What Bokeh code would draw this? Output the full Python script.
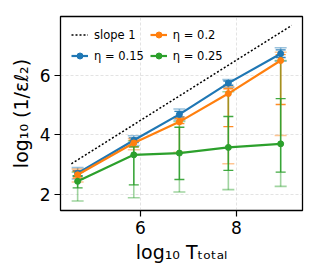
from bokeh.plotting import figure
from bokeh.models import ColumnDataSource, Whisker, TeeHead, Legend, LegendItem, Range1d, FixedTicker
from bokeh.embed import file_html
from bokeh.resources import INLINE

# ---- data ----
log_T = [4.69, 5.86, 6.81, 7.83, 8.92]

slope_x = [4.56, 9.15]
slope_y = [3.03, 7.68]

eta_labels = ["η = 0.15", "η = 0.2", "η = 0.25"]
y_015 = [2.71, 3.82, 4.69, 5.74, 6.73]
dlo_015 = [2.62, 3.74, 4.60, 5.67, 6.60]
dhi_015 = [2.80, 3.90, 4.79, 5.81, 6.86]
llo_015 = [2.52, 3.64, 4.50, 5.60, 6.48]
lhi_015 = [2.90, 3.97, 4.87, 5.86, 6.93]

y_02 = [2.66, 3.73, 4.44, 5.39, 6.50]
dlo_02 = [2.55, 3.60, 4.38, 4.28, 5.02]
dhi_02 = [2.78, 3.82, 4.55, 5.55, 6.70]
llo_02 = [2.42, 3.50, 3.42, 3.03, 3.98]
lhi_02 = [2.85, 3.88, 4.60, 5.62, 6.78]

y_025 = [2.44, 3.33, 3.39, 3.58, 3.70]
dlo_025 = [2.22, 2.32, 2.50, 2.81, 2.75]
dhi_025 = [2.62, 3.60, 4.26, 4.62, 5.22]
llo_025 = [1.78, 1.89, 2.08, 2.16, 2.27]
lhi_025 = [2.75, 3.80, 4.45, 5.45, 6.50]

x_ticks = [6, 8]
y_ticks = [2, 4, 6]

colors = ["#1f77b4", "#ff7f0e", "#2ca02c"]
FONT = "DejaVu Sans"

p = figure(width=310, height=266, output_backend="svg", toolbar_location=None,
           x_range=Range1d(4.333, 9.375), y_range=Range1d(1.46, 7.98),
           min_border_left=60, min_border_right=8, min_border_top=16, min_border_bottom=56)

p.background_fill_color = "white"
p.border_fill_color = "white"
p.outline_line_color = "black"
p.outline_line_width = 1.3

for ax in (p.xaxis[0], p.yaxis[0]):
    ax.axis_line_color = None
    ax.major_tick_line_color = "black"
    ax.major_tick_line_width = 1.2
    ax.major_tick_out = 6
    ax.major_tick_in = 0
    ax.minor_tick_line_color = None
    ax.major_label_text_font = FONT
    ax.major_label_text_font_size = "17px"
    ax.major_label_text_color = "black"
    ax.axis_label_text_font = FONT
    ax.axis_label_text_font_size = "19px"
    ax.axis_label_text_font_style = "normal"
    ax.axis_label_text_color = "black"

p.xaxis[0].ticker = FixedTicker(ticks=x_ticks)
p.yaxis[0].ticker = FixedTicker(ticks=y_ticks)
p.xaxis[0].major_label_standoff = 4
p.yaxis[0].major_label_standoff = 4
p.xaxis[0].axis_label = "log₁₀ Tₜₒₜₐₗ"
p.yaxis[0].axis_label = "log₁₀ (1/εℓ₂)"
p.xaxis[0].axis_label_standoff = 4
p.yaxis[0].axis_label_standoff = 5

p.grid.grid_line_color = "#b0b0b0"
p.grid.grid_line_alpha = 0.45
p.grid.grid_line_dash = "3 2"
p.grid.grid_line_width = 0.8

# slope-1 reference
slope_r = p.line(slope_x, slope_y, line_color="black", line_width=1.5, line_dash="2 2")

series = [
    (y_015, dlo_015, dhi_015, llo_015, lhi_015),
    (y_02, dlo_02, dhi_02, llo_02, lhi_02),
    (y_025, dlo_025, dhi_025, llo_025, lhi_025),
]

items = {}
for (yv, dlo, dhi, llo, lhi), c, lab in zip(series, colors, eta_labels):
    src = ColumnDataSource(dict(x=log_T, y=yv, dlo=dlo, dhi=dhi, llo=llo, lhi=lhi))
    wl = Whisker(source=src, base="x", lower="llo", upper="lhi", dimension="height",
                 line_color=c, line_alpha=0.45, line_width=1.6,
                 upper_head=TeeHead(size=12, line_color=c, line_alpha=0.45, line_width=1.6),
                 lower_head=TeeHead(size=12, line_color=c, line_alpha=0.45, line_width=1.6))
    wd = Whisker(source=src, base="x", lower="dlo", upper="dhi", dimension="height",
                 line_color=c, line_alpha=0.9, line_width=1.4,
                 upper_head=TeeHead(size=10, line_color=c, line_alpha=0.9, line_width=1.4),
                 lower_head=TeeHead(size=10, line_color=c, line_alpha=0.9, line_width=1.4))
    p.add_layout(wl)
    p.add_layout(wd)
    lr = p.line("x", "y", source=src, line_color=c, line_width=2.2)
    sr = p.scatter("x", "y", source=src, size=6, marker="circle", fill_color=c, line_color=c)
    # legend-only glyph: vertical error bar
    er = p.scatter(x=[], y=[], marker="dash", angle=1.5708, size=14, line_color=c, line_width=1.4)
    items[lab] = [lr, er, sr]

legend = Legend(items=[
    LegendItem(label="slope 1", renderers=[slope_r]),
    LegendItem(label=eta_labels[0], renderers=items[eta_labels[0]]),
    LegendItem(label=eta_labels[1], renderers=items[eta_labels[1]]),
    LegendItem(label=eta_labels[2], renderers=items[eta_labels[2]]),
], location="top_left", orientation="vertical", nrows=2)
legend.background_fill_alpha = 0
legend.border_line_alpha = 0
legend.label_text_font = FONT
legend.label_text_font_size = "11.5px"
legend.label_text_color = "black"
legend.glyph_width = 17
legend.glyph_height = 15
legend.label_standoff = 6
legend.spacing = 6
legend.padding = 6
legend.margin = 5
legend.label_height = 15
p.add_layout(legend)

open("out.html", "w").write(file_html(p, INLINE))
